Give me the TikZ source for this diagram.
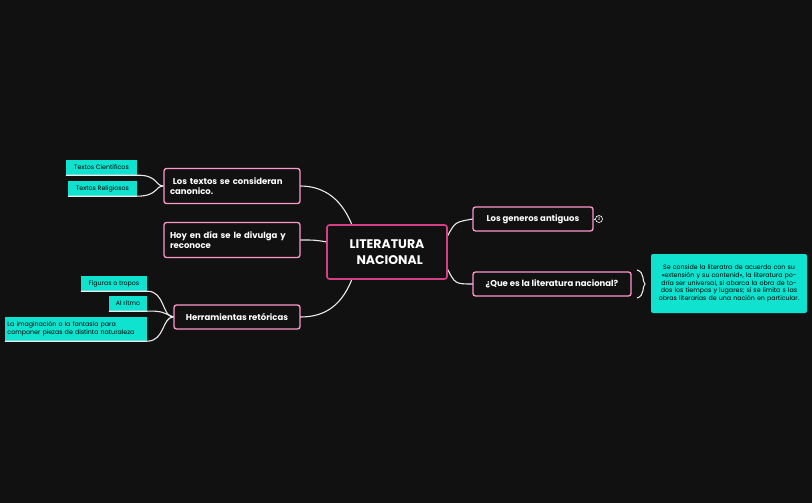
\documentclass[tikz,border=0pt]{standalone}
\usepackage{fontspec}
\setmainfont{Poppins}
\begin{document}
\begin{tikzpicture}[x=1pt,y=-1pt,
  topic/.style={draw=pink!80!magenta, line width=1.3pt, rounded corners=2.5pt, fill=bg, text=white, font=\fontsize{8.5}{10.5}\selectfont\bfseries, inner sep=0pt},
  sub/.style={fill=tq, text=black, font=\fontsize{6.3}{7.6}\selectfont, inner sep=0pt},
  ln/.style={draw=white!92!black, line width=1.1pt}]
\definecolor{bg}{HTML}{111111}
\definecolor{tq}{HTML}{0FE3CF}
\definecolor{cpink}{HTML}{D63E86}
\fill[bg] (0,0) rectangle (812,503);
\useasboundingbox (0,0) rectangle (812,503);
% connectors
\coordinate (c1) at (352,225); \coordinate (c2) at (327,242); \coordinate (c3) at (352,279);
\coordinate (c4) at (447,237); \coordinate (c5) at (447,268);
\draw[ln] (c1) .. controls (340,195) and (320,186) .. (300,186);
\draw[ln] (c2) .. controls (315,240) .. (300,240);
\draw[ln] (c3) .. controls (340,310) and (320,317) .. (300,317);
\draw[ln] (c4) .. controls (455,222) .. (473,219);
\draw[ln] (c5) .. controls (455,284) .. (473,284);
% nodes
\node[draw=cpink, line width=1.6pt, rounded corners=2.5pt, fill=bg, text=white, minimum width=120pt, minimum height=54pt, align=center, font=\fontsize{12.5}{16}\selectfont\bfseries] (central) at (387,252) {LITERATURA\\\ \ NACIONAL};
\node[topic, minimum width=136pt, minimum height=35pt, align=left, text width=124pt] (t1) at (232,186) {\ Los textos se consideran\\canonico.};
\node[topic, minimum width=136pt, minimum height=35pt, align=left, text width=124pt] (t2) at (232,240) {Hoy en día se le divulga y\\reconoce};
\node[topic, minimum width=126pt, minimum height=24pt] (t3) at (237,317) {Herramientas retóricas};
\node[topic, minimum width=120pt, minimum height=24pt] (t4) at (533,219) {Los generos antiguos};
\node[topic, minimum width=158pt, minimum height=24pt] (t5) at (552,284) {¿Que es la literatura nacional?};
\node[draw=white, line width=0.6pt, circle, inner sep=0pt, minimum size=7pt, font=\fontsize{4.5}{5}\selectfont, text=white] (col) at (599,219) {3};
\draw[ln, line width=0.6pt] (t4.east) -- (col.west);
\node[sub, rounded corners=2pt, minimum width=156pt, minimum height=59pt, align=center, text width=150pt] (d) at (729,283.5) {Se conside la literatra de acuerdo con su <<extensión y su contenid>>, la literatura podría ser universal, si abarca la obra de todos los tiempos y lugares; si se limita s las obras literarias de una nación en particular.};
\draw[ln] (637,270) .. controls (645,272) and (642,282) .. (645,284) .. controls (642,286) and (645,296) .. (637,298);
% left subtopics
\node[sub, minimum width=71pt, minimum height=15pt] (s1) at (101.5,167.5) {Textos Cientificos};
\node[sub, minimum width=69pt, minimum height=15pt] (s2) at (102.5,188.5) {Textos Religiosos};
\node[sub, minimum width=66pt, minimum height=15pt] (s3) at (114,283.5) {Figuras o tropos};
\node[sub, minimum width=38pt, minimum height=15pt] (s4) at (128,303.5) {Al ritmo};
\node[sub, minimum width=142pt, minimum height=24pt, align=left, text width=137pt] (s5) at (76,329) {La imaginación o la fantasía para\\componer piezas de distinta naturaleza};
\draw[ln] (s1.south west) -- (s1.south east) .. controls (158,175) and (155,186) .. (t1.west);
\draw[ln] (s2.south west) -- (s2.south east) .. controls (158,196) and (155,186) .. (t1.west);
\draw[ln] (s3.south west) -- (s3.south east) .. controls (165,291) and (162,317) .. (t3.west);
\draw[ln] (s4.south west) -- (s4.south east) .. controls (160,311) .. (t3.west);
\draw[ln] (s5.south west) -- (s5.south east) .. controls (165,341) and (162,317) .. (t3.west);
\end{tikzpicture}
\end{document}
